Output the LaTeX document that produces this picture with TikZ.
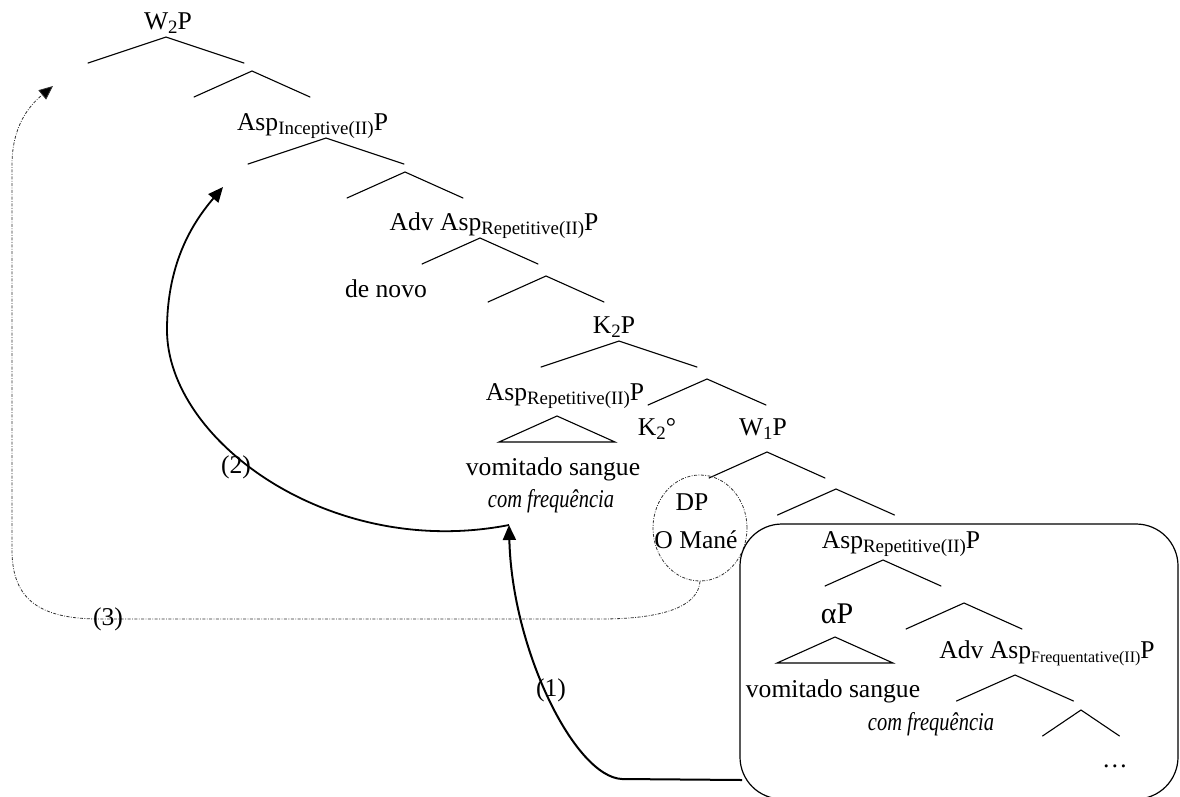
\documentclass[tikz,border=0pt]{standalone}
\usepackage{fontspec}
\setmainfont{Liberation Serif}
\usetikzlibrary{arrows.meta,shapes.geometric}

% lowered, smaller label index (Asp_{...}P, K_2P, W_1P)
\newcommand\lowsub[2][18.9]{\raisebox{-4pt}{\fontsize{#1}{#1}\selectfont #2}}
\newcommand\narrowit[1]{\scalebox{0.8}[1]{\itshape #1}}

\tikzset{
  treeline/.style={line width=1.1pt, line cap=round},
  lbl/.style={inner sep=0pt, anchor=base, font=\fontsize{25.6}{30}\selectfont},
  pics/fork/.style={code={\draw[treeline] (-#1,26) -- (0,0) -- (#1,26);}},
  pics/tri/.style={code={\draw[treeline, line join=miter] (-#1,26) -- (0,0) -- (#1,26) -- cycle;}},
  movearrow/.style={line width=2pt, -{Triangle[length=15pt,width=13pt]}},
  dotline/.style={line width=0.8pt, black!80, dash pattern=on 3pt off 1.5pt on 0.8pt off 1.5pt},
}

\begin{document}
\begin{tikzpicture}[x=1pt,y=-1pt]
\path[fill=white] (0,0) rectangle (1180,796);
\useasboundingbox (0,0) rectangle (1180,796);

% ---- upper spine of the tree
\node[lbl] (w2p) at (168,29) {W\lowsub{2}P};
\pic at (166,37) {fork=78};
\pic at (252,71) {fork=58};
\node[lbl] (aspinc) at (312.5,130) {Asp\lowsub{Inceptive(II)}P};
\pic at (326,138) {fork=78};
\pic at (405,172) {fork=58};
\node[lbl] (advrep) at (494,230) {Adv Asp\lowsub{Repetitive(II)}P};
\pic at (480,238) {fork=58};
\node[lbl] (denovo) at (386,297) {de novo};
\pic at (546,276) {fork=58};
\node[lbl] (k2p) at (614,333) {K\lowsub{2}P};
\pic at (619,341) {fork=78};
\node[lbl] (asprep) at (565,400) {Asp\lowsub{Repetitive(II)}P};
\pic at (707,379) {fork=59};
\pic at (557,416) {tri=58};
\node[lbl] (k2) at (657,435) {K\lowsub{2}°};
\node[lbl] (w1p) at (763,435) {W\lowsub{1}P};
\node[lbl] (vs1) at (553,475) {vomitado sangue};
\node[lbl] (cf1) at (551,507) {\narrowit{com frequência}};
\pic at (767,452) {fork=58};
\pic at (836,489) {fork=58.5};

% ---- subject DP
\node[lbl] (dp) at (692,510) {DP};
\node[lbl] (mane) at (696,548) {O Mané};
\node[dotline, draw, ellipse, minimum width=94pt, minimum height=106pt, inner sep=0pt] (dpcircle) at (700,528) {};

% ---- boxed lower part (its bottom edge lies just below the page)
\node[draw, line width=1.2pt, rounded corners=42pt, minimum width=438pt, minimum height=275pt, inner sep=0pt] (box) at (959,661.5) {};
\node[lbl] (asprep2) at (901,548) {Asp\lowsub{Repetitive(II)}P};
\pic at (883,560) {fork=58};
\node[lbl, font=\fontsize{30}{34}\selectfont] (alphap) at (837,623) {αP};
\pic at (964,603) {fork=58};
\pic at (835,637) {tri=58};
\node[lbl] (advfreq) at (1047,658) {Adv Asp\lowsub[16]{Frequentative(II)}P};
\node[lbl] (vs2) at (833,697) {vomitado sangue};
\pic at (1015,675) {fork=58.5};
\node[lbl] (cf2) at (931,730) {\narrowit{com frequência}};
\pic at (1081,710) {fork=38.5};
\node[lbl] (dots) at (1115,767) {…};

% ---- movements
\coordinate (boxexit) at (742,780);
\coordinate (landing) at (509,525);
\coordinate (target2) at (223,187);
\coordinate (target3) at (53,86);

\draw[movearrow] (boxexit) -- (622,779) .. controls (575,777) and (512,650) .. (landing);
\draw[movearrow, line width=1.8pt] (landing) .. controls (330,560) and (167,440) .. (167,330)
      .. controls (167,260) and (195,220) .. (target2);
\draw[dotline, -{Triangle[length=14pt,width=12pt,fill=black]}] (dpcircle.south)
      .. controls (698,606) and (665,619) .. (600,619) -- (100,619)
      .. controls (40,619) and (12,600) .. (12,550) -- (12,165)
      .. controls (12,125) and (30,105) .. (target3);

\node[lbl] (m1) at (551,696) {(1)};
\node[lbl] (m2) at (236,473) {(2)};
\node[lbl] (m3) at (108,625) {(3)};
\end{tikzpicture}
\end{document}
